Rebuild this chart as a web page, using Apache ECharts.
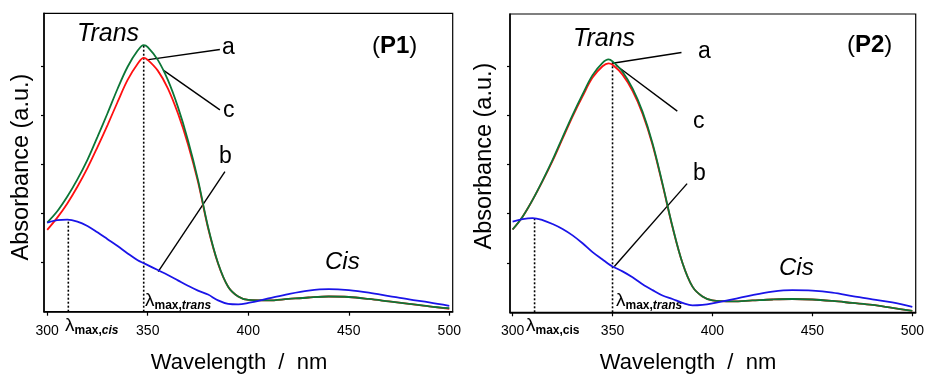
<!DOCTYPE html>
<html><head><meta charset="utf-8">
<script src="https://cdn.jsdelivr.net/npm/echarts@6/dist/echarts.min.js"></script>
<style>html,body{margin:0;padding:0;background:#fff}#c{width:927px;height:376px}</style>
</head><body><div id="c"></div>
<script>
// ---------- data ----------
const wavelengths = [300,305,310,315,320,325,330,335,340,345,348,350,355,360,365,370,375,380,385,390,395,400,410,420,430,440,450,460,470,480,490,500];
const xTicks = [300,350,400,450,500];
const yTicks = [1,2,3,4,5];

// Panel P1
const p1Green = [1.82,2.05,2.35,2.70,3.10,3.57,4.05,4.55,5.00,5.33,5.44,5.40,5.14,4.73,4.18,3.50,2.69,1.73,0.99,0.51,0.31,0.24,0.23,0.26,0.29,0.31,0.30,0.26,0.21,0.16,0.11,0.07];
const p1Red   = [1.67,1.92,2.21,2.55,2.93,3.36,3.81,4.28,4.73,5.06,5.18,5.14,4.92,4.56,4.05,3.42,2.65,1.71,0.98,0.51,0.31,0.24,0.23,0.26,0.29,0.31,0.30,0.26,0.21,0.16,0.11,0.06];
const p1Blue  = [1.82,1.87,1.88,1.84,1.75,1.62,1.48,1.34,1.19,1.05,0.99,0.95,0.85,0.75,0.64,0.53,0.43,0.35,0.23,0.16,0.15,0.18,0.27,0.36,0.43,0.46,0.44,0.39,0.32,0.25,0.19,0.12];
const p1LambdaTrans = [348, 5.44];
const p1LambdaCis = [310.5, 1.88];
const p1LeaderA = [[349.5,5.14],[385.9,5.35]];
const p1LeaderC = [[357.7,4.93],[385.9,4.12]];
const p1LeaderB = [[355.2,0.82],[388.4,2.86]];

// Panel P2
const p2Green = [1.68,1.94,2.28,2.67,3.09,3.55,4.00,4.42,4.81,5.06,5.13,5.09,4.88,4.54,4.07,3.43,2.61,1.74,1.00,0.52,0.32,0.24,0.22,0.24,0.26,0.27,0.26,0.23,0.19,0.15,0.09,0.03];
const p2Red   = [1.68,1.94,2.28,2.66,3.07,3.52,3.97,4.38,4.76,4.99,5.05,5.02,4.82,4.49,4.03,3.40,2.59,1.73,1.00,0.52,0.32,0.24,0.22,0.24,0.26,0.27,0.26,0.23,0.19,0.15,0.09,0.03];
const p2Blue  = [1.84,1.89,1.91,1.87,1.79,1.69,1.56,1.40,1.22,1.07,0.98,0.93,0.83,0.71,0.57,0.45,0.34,0.27,0.19,0.14,0.15,0.18,0.26,0.35,0.42,0.45,0.44,0.40,0.33,0.26,0.20,0.11];
const p2LambdaTrans = [350, 5.09];
const p2LambdaCis = [311, 1.91];
const p2LeaderA = [[350.0,5.05],[384.5,5.27]];
const p2LeaderC = [[351.7,5.01],[382.4,4.08]];
const p2LeaderB = [[350.9,0.93],[387.3,2.61]];

// ---------- chart ----------
const FONT = 'Liberation Sans';
const GREEN = '#0c7636', RED = '#ff1010', BLUE = '#1a14e8';
const zip = (xs, ys) => xs.map((x, i) => [x, ys[i]]);

function xAxisCfg(idx, min, max) {
  return {
    type: 'value', gridIndex: idx, min: min, max: max,
    axisLine: { show: true, onZero: false, lineStyle: { color: '#000', width: 1.5 } },
    axisTick: { show: true, customValues: xTicks, length: 4, inside: false, lineStyle: { color: '#000', width: 1.2 } },
    axisLabel: { show: true, customValues: xTicks, color: '#000', fontSize: 14, fontFamily: FONT, margin: 12 },
    splitLine: { show: false }
  };
}
function yAxisCfg(idx, max) {
  return {
    type: 'value', gridIndex: idx, min: 0, max: max,
    axisLine: { show: true, onZero: false, lineStyle: { color: '#000', width: 1.5 } },
    axisTick: { show: true, customValues: yTicks, length: 3, inside: false, lineStyle: { color: '#000', width: 1.2 } },
    axisLabel: { show: false },
    splitLine: { show: false }
  };
}
function curve(idx, ys, color) {
  return { type: 'line', xAxisIndex: idx, yAxisIndex: idx, data: zip(wavelengths, ys),
    showSymbol: false, smooth: 0.35, lineStyle: { color: color, width: 1.8 }, silent: true, z: 3 };
}
function seg(idx, pts, dotted) {
  return { type: 'line', xAxisIndex: idx, yAxisIndex: idx, data: pts, showSymbol: false, silent: true,
    lineStyle: { color: '#000', width: dotted ? 1.6 : 1.4, type: dotted ? [2, 2] : 'solid' }, z: 2 };
}
function vline(idx, p) { return seg(idx, [[p[0], 0], [p[0], p[1]]], true); }

function txt(x, y, text, size, extra) {
  return Object.assign({ type: 'text', x: x, y: y, silent: true,
    style: Object.assign({ text: text, fontFamily: FONT, fontSize: size, fill: '#000', align: 'left', verticalAlign: 'middle' }, extra && extra.style || {}) },
    extra && extra.el || {});
}
function lambdaLabel(x, y, sub1, sub2, italic2) {
  return { type: 'text', x: x, y: y, silent: true, style: {
    text: '{l|λ}{s|' + sub1 + '}{t|' + sub2 + '}', fontFamily: FONT, fill: '#000', align: 'left', verticalAlign: 'bottom',
    rich: {
      l: { fontSize: 19, fontFamily: FONT, fill: '#000', verticalAlign: 'bottom' },
      s: { fontSize: 12, fontWeight: 'bold', fontFamily: FONT, fill: '#000', verticalAlign: 'bottom', padding: [0,0,-2,0] },
      t: { fontSize: 12, fontWeight: 'bold', fontStyle: italic2 ? 'italic' : 'normal', fontFamily: FONT, fill: '#000', verticalAlign: 'bottom', padding: [0,0,-2,0] }
    } } };
}
function panelTag(x, y, name) {
  return { type: 'text', x: x, y: y, silent: true, style: {
    text: '{n|(}{b|' + name + '}{n|)}', fontFamily: FONT, align: 'left', verticalAlign: 'middle',
    rich: { n: { fontSize: 24, fontFamily: FONT, fill: '#000' }, b: { fontSize: 24, fontWeight: 'bold', fontFamily: FONT, fill: '#000' } } } };
}

const chart = echarts.init(document.getElementById('c'), null, { renderer: 'canvas' });
chart.setOption({
  backgroundColor: '#fff',
  animation: false,
  grid: [
    { left: 44, right: 474.3, top: 13.3, bottom: 64.3, show: true, borderColor: '#000', borderWidth: 1.2, containLabel: false },
    { left: 510, right: 8.7, top: 14, bottom: 63.7, show: true, borderColor: '#000', borderWidth: 1.2, containLabel: false }
  ],
  xAxis: [xAxisCfg(0, 298.4, 501.7), xAxisCfg(1, 298.7, 501.7)],
  yAxis: [yAxisCfg(0, 6.09), yAxisCfg(1, 6.05)],
  series: [
    vline(0, p1LambdaTrans), vline(0, p1LambdaCis),
    seg(0, p1LeaderA), seg(0, p1LeaderC), seg(0, p1LeaderB),
    curve(0, p1Red, RED), curve(0, p1Green, GREEN), curve(0, p1Blue, BLUE),
    vline(1, p2LambdaTrans), vline(1, p2LambdaCis),
    seg(1, p2LeaderA), seg(1, p2LeaderC), seg(1, p2LeaderB),
    curve(1, p2Red, RED), curve(1, p2Green, GREEN), curve(1, p2Blue, BLUE)
  ],
  graphic: [
    // Panel 1
    txt(77, 34, 'Trans', 25, { style: { fontStyle: 'italic' } }),
    txt(325, 262, 'Cis', 24, { style: { fontStyle: 'italic' } }),
    panelTag(372, 46, 'P1'),
    txt(222, 48, 'a', 23), txt(223, 111, 'c', 23), txt(219, 157, 'b', 23),
    lambdaLabel(145, 310, 'max,', 'trans', true),
    lambdaLabel(65, 335, 'max,', 'cis', true),
    txt(239, 363, 'Wavelength  /  nm', 22, { style: { align: 'center' } }),
    txt(22, 167, 'Absorbance (a.u.)', 23.5, { style: { align: 'center' }, el: { rotation: Math.PI / 2 } }),
    // Panel 2
    txt(573, 39, 'Trans', 25, { style: { fontStyle: 'italic' } }),
    txt(779, 268, 'Cis', 24, { style: { fontStyle: 'italic' } }),
    panelTag(847, 45, 'P2'),
    txt(698, 52, 'a', 23), txt(693, 122, 'c', 23), txt(693, 174, 'b', 23),
    lambdaLabel(616, 310, 'max,', 'trans', true),
    lambdaLabel(526, 335, 'max,cis', '', false),
    txt(688, 363, 'Wavelength  /  nm', 22, { style: { align: 'center' } }),
    txt(485, 156, 'Absorbance (a.u.)', 23.5, { style: { align: 'center' }, el: { rotation: Math.PI / 2 } })
  ]
});
</script>
</body></html>
